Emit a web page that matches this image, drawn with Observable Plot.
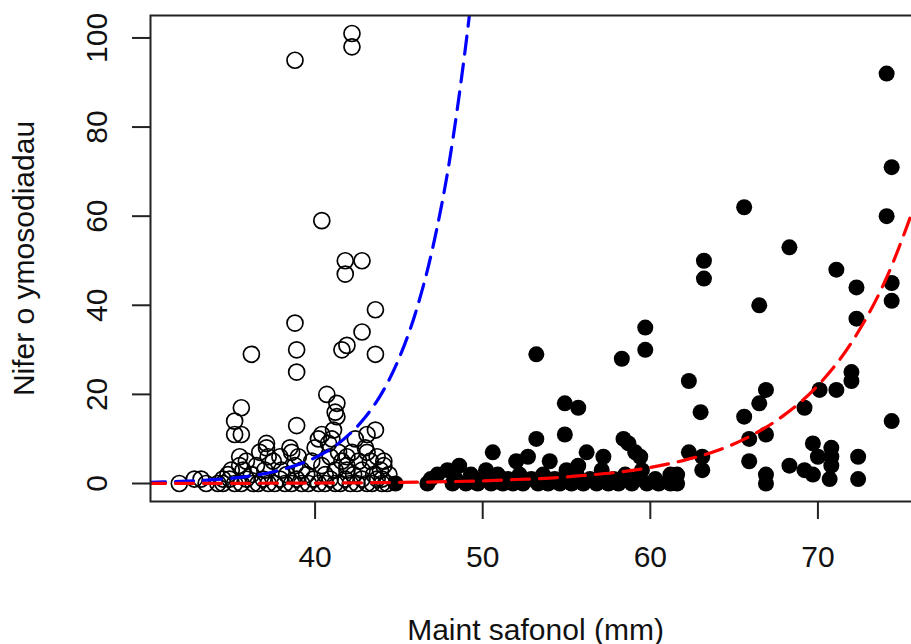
<!DOCTYPE html>
<html>
<head>
<meta charset="utf-8">
<script src="https://cdn.jsdelivr.net/npm/d3@7"></script>
<script src="https://cdn.jsdelivr.net/npm/@observablehq/plot@0.6"></script>
<style>
  html, body { margin: 0; padding: 0; background: white; }
  #chart { width: 911px; height: 644px; overflow: hidden; }
</style>
</head>
<body>
<div id="chart"></div>
<script>
// ---- Data ----
const xTitle = "Maint safonol (mm)";
const yTitle = "Nifer o ymosodiadau";
const xTicks = [40, 50, 60, 70];
const yTicks = [0, 20, 40, 60, 80, 100];

// Open circles: smaller size class (x, y)
const openX = [42.2,42.2,38.8,40.4,41.8,42.8,41.8,43.6,38.8,42.8,41.9,41.6,36.2,38.9,43.6,38.9,40.7,41.3,35.6,41.2,41.3,35.2,38.9,35.2,35.6,43.6,43.1,40.4,41.1,37.1,42.4,
  35.5,35.5,35.7,35.9,36.2,36.5,36.7,37.1,37.2,37.0,37.5,37.9,38.0,38.3,38.5,38.6,38.8,39.0,39.2,39.5,39.8,40.0,40.2,40.4,40.6,40.8,40.9,41.0,41.2,41.4,41.6,41.9,41.9,41.9,42.2,42.3,42.6,42.8,43.0,43.1,43.3,43.5,43.7,43.9,44.1,44.1,44.0,34.8,34.5,35.0,
  31.9,32.8,33.2,33.5,34.2,34.5,34.9,35.2,35.6,35.9,36.3,36.6,36.9,37.2,37.6,37.9,38.2,38.6,38.9,39.2,39.6,39.9,40.2,40.6,40.9,41.2,41.5,41.8,42.1,42.5,42.8,43.1,43.4,43.7,44.0,44.3,44.4];
const openY = [101,98,95,59,50,50,47,39,36,34,31,30,29,30,29,25,20,18,17,16,15,14,13,11,11,12,11,11,12,9,10,
  6,4,3,5,2,4,7,8,6,3,5,6,3,2,8,7,4,6,3,2,5,8,10,4,2,9,6,10,3,7,5,6,4,3,7,2,5,3,8,7,5,2,6,3,5,4,1,2,1,3,
  0,1,1,0,0,0,1,0,0,1,0,0,1,0,0,1,0,0,1,0,0,1,0,0,1,0,0,1,0,0,1,0,0,1,0,0,2];

// Filled circles: larger size class (x, y)
const fillX = [44.8,46.7,46.9,47.3,47.9,48.2,48.6,48.4,49.0,49.3,49.7,50.0,50.2,50.6,50.5,50.9,51.2,51.5,51.8,52.0,52.2,52.4,52.7,52.9,53.2,53.2,53.3,53.6,53.9,54.0,54.3,54.6,54.9,54.9,55.0,55.3,55.6,55.7,55.7,56.0,56.2,56.4,56.8,57.1,57.2,57.5,57.8,58.1,58.3,58.4,58.5,58.7,58.9,59.1,59.2,59.4,59.5,59.7,59.7,59.8,60.3,60.5,61.2,61.2,61.6,61.6,62.3,62.3,63.0,63.1,63.1,63.2,63.2,65.6,65.6,65.9,65.9,66.5,66.5,66.9,66.9,66.9,66.9,68.3,68.3,69.2,69.2,69.7,69.7,70.0,70.1,70.7,70.8,70.8,70.8,71.1,71.1,72.0,72.0,72.3,72.3,72.4,72.4,74.1,74.1,74.4,74.4,74.4,74.4];
const fillY = [0,0,1,2,3,0,4,1,0,2,0,1,3,7,0,2,0,1,0,5,2,0,6,1,10,29,0,2,0,5,1,0,11,18,3,0,2,17,4,0,7,1,0,3,6,0,1,0,28,10,2,9,0,7,1,6,3,35,30,0,1,0,2,0,2,0,23,7,16,6,3,50,46,62,15,10,5,40,18,21,11,2,0,53,4,17,3,9,2,6,21,1,8,6,4,48,21,25,23,44,37,6,1,92,60,71,45,41,14];

// Fitted curves
const blueX = [30, 32, 34, 36, 38, 40, 41, 42, 43, 44, 45, 46, 47, 48, 49, 49.6];
const blueY = [0.25, 0.47, 0.88, 1.6, 3.1, 5.8, 7.9, 10.9, 14.9, 20.4, 28, 38.4, 52.6, 72, 98.7, 118];
const redX = [30, 35, 40, 45, 48, 50, 52, 54, 56, 58, 60, 62, 64, 66, 68, 70, 72, 74, 76.2];
const redY = [0.02, 0.04, 0.1, 0.24, 0.42, 0.6, 0.9, 1.2, 1.8, 2.5, 3.6, 5.2, 7.4, 10.7, 15.4, 22, 31.6, 45.4, 67];

// ---- Build tables ----
const openPts = openX.map((x, i) => ({x, y: openY[i]}));
const fillPts = fillX.map((x, i) => ({x, y: fillY[i]}));
const bluePts = blueX.map((x, i) => ({x, y: blueY[i]}));
const redPts = redX.map((x, i) => ({x, y: redY[i]}));

const font = "'Liberation Sans', Arial, Helvetica, sans-serif";

const chart = Plot.plot({
  width: 911,
  height: 644,
  marginLeft: 150,
  marginRight: -9,
  marginTop: 15,
  marginBottom: 143,
  style: {fontFamily: font, fontSize: "30px", background: "white", color: "black"},
  x: {domain: [30.18, 76.12]},
  y: {domain: [-4.04, 105.04]},
  marks: [
    Plot.dot(openPts, {x: "x", y: "y", r: 8, stroke: "black", strokeWidth: 1.7, fill: "none"}),
    Plot.dot(fillPts, {x: "x", y: "y", r: 8, fill: "black", stroke: "none"}),
    Plot.line(bluePts, {x: "x", y: "y", stroke: "#0000ff", strokeWidth: 3.2, strokeDasharray: "18,10", curve: "monotone-x", clip: true}),
    Plot.line(redPts, {x: "x", y: "y", stroke: "#ff0000", strokeWidth: 3.2, strokeDasharray: "18,10", curve: "monotone-x", clip: true}),
    Plot.frame({stroke: "#222", strokeWidth: 2}),
    Plot.axisX({ticks: xTicks, tickSize: 18, tickPadding: 26, fontSize: 30, label: null, stroke: "#222", strokeWidth: 2, fill: "#111"}),
    Plot.axisY({ticks: yTicks, tickSize: 18, tickPadding: 26, tickRotate: -90, fontSize: 30, label: null, stroke: "#222", strokeWidth: 2, fill: "#111"}),
    Plot.text([xTitle], {text: d => d, frameAnchor: "bottom", dy: 138, lineAnchor: "bottom", textAnchor: "middle", fontSize: 30, fill: "#111"}),
    Plot.text([yTitle], {text: d => d, frameAnchor: "left", dx: -117, rotate: -90, lineAnchor: "bottom", textAnchor: "middle", fontSize: 30, fill: "#111"})
  ]
});
document.getElementById("chart").appendChild(chart);
</script>
</body>
</html>
